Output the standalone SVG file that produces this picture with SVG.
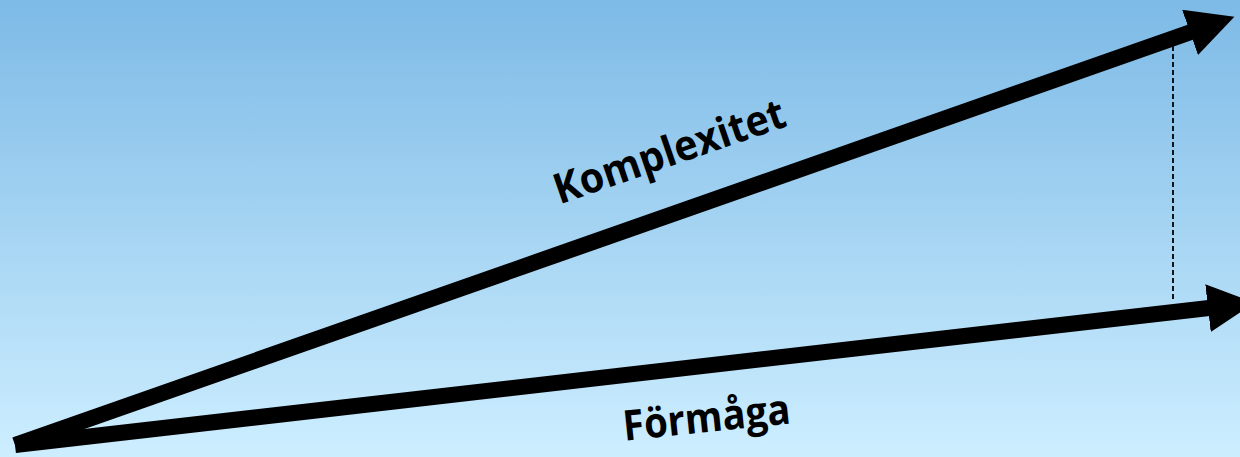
<svg xmlns="http://www.w3.org/2000/svg" width="1240" height="457" viewBox="0 0 1240 457">
<defs>
<linearGradient id="bg" x1="0" y1="0" x2="0" y2="1">
<stop offset="0" stop-color="#7dbae6"/>
<stop offset="1" stop-color="#cdeeff"/>
</linearGradient>
<marker id="head" markerUnits="userSpaceOnUse" viewBox="0 0 48 48" markerWidth="48" markerHeight="48" refX="1" refY="24" orient="auto">
<path d="M0,0 L47,24 L0,48 Z" fill="#000"/>
</marker>
<style>
.arrow{stroke:#000;stroke-width:16;fill:none;stroke-linecap:butt}
.lbl{font-family:"Open Sans","Liberation Sans",sans-serif;font-weight:bold;font-size:42px;fill:#000}
</style>
</defs>
<rect width="1240" height="457" fill="url(#bg)"/>
<g id="connectors">
<line class="arrow" x1="15" y1="445" x2="1191" y2="32" marker-end="url(#head)"/>
<line class="arrow" x1="15" y1="445" x2="1209" y2="308" marker-end="url(#head)"/>
<line x1="1173" y1="46" x2="1173" y2="301" stroke="#000" stroke-width="1.8" stroke-dasharray="5,3"/>
</g>
<g id="komplexitet">
<text class="lbl" x="674" y="165" text-anchor="middle" textLength="242" lengthAdjust="spacingAndGlyphs" transform="rotate(-19 674 165)">Komplexitet</text>
</g>
<g id="formaga">
<text class="lbl" x="708" y="432" text-anchor="middle" textLength="168" lengthAdjust="spacingAndGlyphs" transform="rotate(-6 708 432)">Förmåga</text>
</g>
</svg>
